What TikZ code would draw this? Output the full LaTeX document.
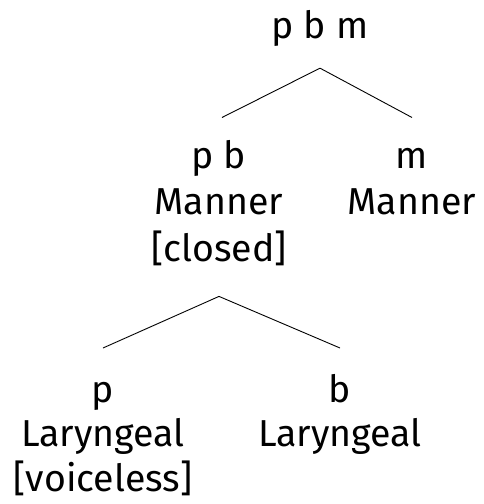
\documentclass[tikz,border=0pt]{standalone}
\usepackage{fontspec}
\setmainfont{Fira Sans}
\usetikzlibrary{positioning}
\tikzset{
  seg/.style={align=center,inner sep=0pt,font=\fontsize{37.5}{46.5}\selectfont},
  tight/.style={seg,font=\fontsize{37.5}{44.5}\selectfont},
  branch/.style={line width=0.9pt,black}
}
\begin{document}
\begin{tikzpicture}[x=1pt,y=-1pt]
\useasboundingbox (0,0) rectangle (483,504);
% top of the tree
\node[seg,anchor=base] (pbm) at (320,38) {\strut p b m};
% middle level
\node[seg,anchor=north] (pb) at (219,135.5) {\strut p b\\Manner\\{[closed]}\strut};
\node[seg,anchor=north] (m) at (412,135.5) {\strut m\\Manner};
% bottom level
\node[tight,anchor=north] (p) at (103,371) {\strut p\\Laryngeal\\{[voiceless]}};
\node[tight,anchor=north] (b) at (340,371) {\strut b\\Laryngeal};
\coordinate (pbmfoot) at ([yshift=-16]pbm.south);
\coordinate (pbfoot) at ([yshift=-21]pb.south);
\draw[branch] (pbmfoot) -- ([xshift=3,yshift=18]pb.north);
\draw[branch] (pbmfoot) -- ([yshift=18]m.north);
\draw[branch] (pbfoot) -- ([yshift=23]p.north);
\draw[branch] (pbfoot) -- ([yshift=23]b.north);
\end{tikzpicture}
\end{document}
